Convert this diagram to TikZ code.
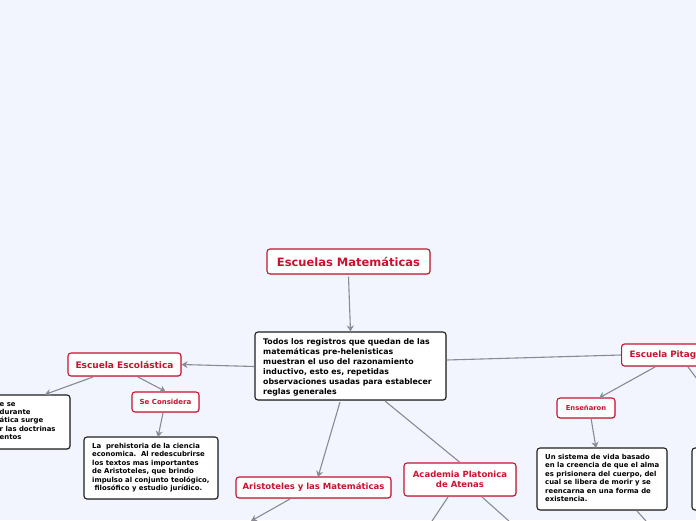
\documentclass[tikz,border=0pt]{standalone}
\usepackage{fontspec}
\setmainfont{DejaVu Sans}
\usetikzlibrary{arrows.meta,shadows}
\definecolor{bg}{RGB}{242,245,253}
\definecolor{mmred}{RGB}{200,18,48}
\definecolor{lnk}{RGB}{138,138,146}
\definecolor{bdark}{RGB}{30,30,30}
\tikzset{
  redbox/.style={draw=mmred, line width=1.1pt, fill=white, rounded corners=3pt, text=mmred,
    font=\bfseries, inner sep=0pt, align=center,
    drop shadow={shadow xshift=0.8pt, shadow yshift=-0.8pt, opacity=0.25}},
  blackbox/.style={draw=bdark, line width=1.1pt, fill=white, rounded corners=3pt, text=black,
    inner sep=0pt,
    drop shadow={shadow xshift=0.8pt, shadow yshift=-0.8pt, opacity=0.25}},
  btext/.style={font=\bfseries, align=left, inner sep=0pt, anchor=north west, text=black},
  link/.style={draw=lnk, line width=1.1pt},
  arr/.style={link, -{Stealth[length=6pt,width=7pt]}},
}
\begin{document}
\begin{tikzpicture}[x=1pt,y=-1pt]
\useasboundingbox[fill=bg] (0,0) rectangle (696,520);
% nodes
\node[redbox, minimum width=163pt, minimum height=25pt, font=\bfseries\fontsize{11.5}{13}\selectfont] (em) at (348.5,261.5) {Escuelas Matemáticas};
\node[blackbox, minimum width=191pt, minimum height=68pt] (cen) at (350.5,366) {};
\node[btext, font=\bfseries\fontsize{7.8}{10}\selectfont] (cent) at (263,338.5) {Todos los registros que quedan de las\\matemáticas pre-helenisticas\\muestran el uso del razonamiento\\inductivo, esto es, repetidas\\observaciones usadas para establecer\\reglas generales};
\node[redbox, minimum width=113pt, minimum height=23pt, font=\bfseries\fontsize{9}{10}\selectfont] (esc) at (124.5,364.5) {Escuela Escolástica};
\node[blackbox, minimum width=140pt, minimum height=54pt] (lbox) at (0,422) {};
\node[btext, font=\bfseries\fontsize{6.9}{8.4}\selectfont] (lboxt) at (-0.5,402) {e se\\ durante\\ática surge\\r las doctrinas\\entos};
\node[redbox, minimum width=67pt, minimum height=20pt, font=\bfseries\fontsize{7}{8}\selectfont] (secon) at (165.5,402) {Se Considera};
\node[blackbox, minimum width=134pt, minimum height=62pt] (pre) at (151,468) {};
\node[btext, font=\bfseries\fontsize{6.9}{8.4}\selectfont] (pret) at (92,443) {La\ \ prehistoria de la ciencia\\economica.\ \ Al redescubrirse\\los textos mas importantes\\de Aristoteles, que brindo\\impulso al conjunto teológico,\\\ filosófico y estudio jurídico.};
\node[redbox, minimum width=155pt, minimum height=21pt, font=\bfseries\fontsize{8.5}{10}\selectfont] (ari) at (313.5,487.5) {Aristoteles y las Matemáticas};
\node[redbox, minimum width=112pt, minimum height=33pt, font=\bfseries\fontsize{8.5}{10.5}\selectfont] (aca) at (460,479.5) {Academia Platonica\\de Atenas};
\node[redbox, minimum height=22pt, anchor=west, inner xsep=8pt, font=\bfseries\fontsize{8.8}{10}\selectfont] (pit) at (621,355) {Escuela Pitagórica};
\node[redbox, minimum width=58pt, minimum height=20pt, font=\bfseries\fontsize{6.8}{8}\selectfont] (ens) at (586,408) {Enseñaron};
\node[blackbox, minimum width=130pt, minimum height=62pt] (sis) at (602,479) {};
\node[btext, font=\bfseries\fontsize{6.9}{8.4}\selectfont] (sist) at (545,454) {Un sistema de vida basado\\en la creencia de que el alma\\es prisionera del cuerpo, del\\cual se libera de morir y se\\reencarna en una forma de\\existencia.};
\node[blackbox, minimum width=130pt, minimum height=62pt] (rbox) at (757,479) {};
% free ends
\coordinate (ariD) at (251,521);
\coordinate (acaA) at (432,521);
\coordinate (acaB) at (509,521);
\coordinate (pitD) at (697,379);
\coordinate (sisD) at (646,521);
% connectors
\draw[arr] (em.south) ++(0,2) -- (cen.north);
\draw[arr] (cen.west) ++(0,0.5) -- (esc.east);
\draw[link] (cen.east) ++(0,-6) -- (pit.west);
\draw[arr] (93,377) -- (lbox.north -| 45,0);
\draw[arr] (138,377) -- (secon.north);
\draw[arr] (163,413) -- (158,437);
\draw[arr] (340,402) -- (318,477);
\draw[link] (385,401) -- (aca.north);
\draw[arr] (290,499) -- (ariD);
\draw[link] (448,497) -- (acaA);
\draw[link] (482,497) -- (acaB);
\draw[arr] (655,367) -- (599,398);
\draw[link] (688,367) -- (pitD);
\draw[arr] (591,418) -- (596,448);
\draw[link] (637,511) -- (sisD);
\end{tikzpicture}
\end{document}
